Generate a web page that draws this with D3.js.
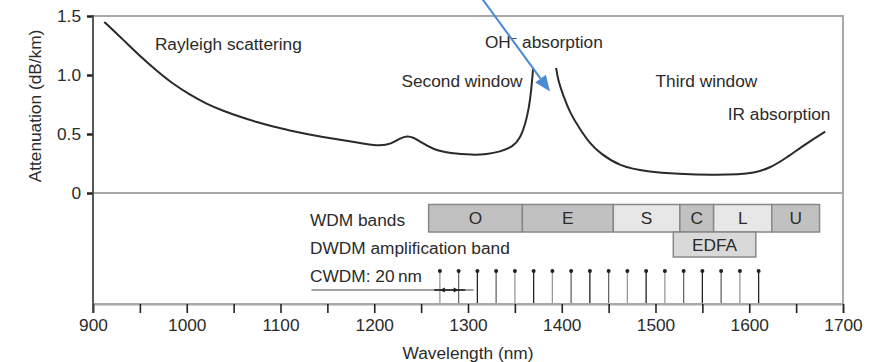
<!DOCTYPE html>
<html>
<head>
<meta charset="utf-8">
<script src="https://cdn.jsdelivr.net/npm/d3@7"></script>
<style>
	body{margin:0;background:#fff;}
	svg text{font-family:"Liberation Sans",Arial,sans-serif;fill:#2b2b2b;}
</style>
</head>
<body>
<svg width="871" height="362"></svg>
<script>
(()=>{
	//data
	let wavelength = [912,932,950,968,985,1004,1021,1039,1057,1075,1092,1110,1128,1163,1192,1206,1218,1228,1235,1242,1250,1263,1281,1305,1320,1334,1348,1356,1361,1365,1367.5,1369.5,
		null,
		1394,1396,1402,1409,1420,1430,1441,1462,1491,1525,1561,1590,1604,1622,1640,1661,1681];
	let attenuation = [1.45,1.30,1.16,1.035,0.925,0.83,0.755,0.695,0.645,0.60,0.562,0.53,0.50,0.45,0.415,0.40,0.415,0.465,0.485,0.47,0.43,0.368,0.336,0.322,0.328,0.35,0.39,0.47,0.58,0.72,0.87,1.06,
		null,
		1.06,0.958,0.816,0.675,0.534,0.421,0.336,0.225,0.18,0.162,0.153,0.158,0.169,0.21,0.30,0.42,0.52];

	let bandNames = ["O","E","S","C","L","U"];
	let bandStart = [1258,1358,1455,1526,1562,1624];
	let bandEnd   = [1358,1455,1526,1562,1624,1675];
	let bandShade = ["dark","dark","light","dark","light","dark"];

	let edfaBand = [1519,1607];
	let cwdmChannels = d3.range(1270,1611,20);

	let xTicks = d3.range(900,1701,50);
	let yTicks = [0,0.5,1.0,1.5];

	let notes = [
		{text:"Rayleigh scattering", wl:966, att:1.263},
		{text:"Second window", wl:1229, att:0.95},
		{text:"Third window", wl:1500, att:0.95},
		{text:"IR absorption", wl:1577, att:0.67}
	];

	//svg setup
	let svg = d3.select("svg"),
		x = d3.scaleLinear().domain([900,1700]).range([93,843]),
		y = d3.scaleLinear().domain([0,1.5]).range([193,16]),
		axisY = 304,
		fs = 17.3;
	let shades = {dark:"#c1c1c1", light:"#e7e7e7"};

	//frame
	svg.append("rect")
		.attr("x", x(900)).attr("y", y(1.5))
		.attr("width", x(1700)-x(900)).attr("height", axisY-y(1.5))
		.attr("fill","none").attr("stroke","#a8a8a8").attr("stroke-width",2);
	svg.append("line")
		.attr("x1", x(900)).attr("x2", x(1700))
		.attr("y1", y(0)).attr("y2", y(0))
		.attr("stroke","#a8a8a8").attr("stroke-width",2);

	//x axis
	let gx = svg.append("g").attr("transform","translate(0,"+axisY+")")
		.call(d3.axisBottom(x).tickValues(xTicks).tickSize(9).tickPadding(6)
			.tickFormat(d => d%100===0 ? d : ""));
	gx.select(".domain").attr("stroke","#a8a8a8").attr("stroke-width",2);
	gx.selectAll(".tick line").attr("stroke","#222").attr("stroke-width",1.6);
	gx.selectAll("text").attr("font-size",fs).attr("fill","#2b2b2b");

	//y axis
	let gy = svg.append("g").attr("transform","translate("+x(900)+",0)")
		.call(d3.axisLeft(y).tickValues(yTicks).tickSize(6).tickPadding(6)
			.tickFormat(d => d===0 ? "0" : d3.format(".1f")(d)));
	gy.select(".domain").remove();
	gy.selectAll(".tick line").attr("stroke","#222").attr("stroke-width",2.5);
	gy.selectAll("text").attr("font-size",fs).attr("fill","#2b2b2b");
	svg.append("line")
		.attr("x1", x(900)).attr("x2", x(900))
		.attr("y1", y(1.5)-1).attr("y2", axisY+9)
		.attr("stroke","#444").attr("stroke-width",1.6);

	//axis titles
	svg.append("text")
		.attr("transform","translate(41,106) rotate(-90)")
		.attr("text-anchor","middle")
		.attr("font-size",fs)
		.text("Attenuation (dB/km)");
	svg.append("text")
		.attr("x",468).attr("y",359)
		.attr("text-anchor","middle")
		.attr("font-size",fs)
		.text("Wavelength (nm)");

	//attenuation curve
	let pts = wavelength.map((w,i) => [w, attenuation[i]]);
	let line = d3.line()
		.defined(d => d[0]!==null)
		.x(d => x(d[0]))
		.y(d => y(d[1]))
		.curve(d3.curveBasis);
	svg.append("path")
		.datum(pts)
		.attr("d", line)
		.attr("fill","none")
		.attr("stroke","#2a2a2a")
		.attr("stroke-width",2);

	//curve notes
	notes.forEach(n => {
		svg.append("text")
			.attr("x", x(n.wl)).attr("y", y(n.att)+6)
			.attr("font-size",fs)
			.text(n.text);
	});
	let oh = svg.append("text")
		.attr("x", x(1318)).attr("y", y(1.28)+6)
		.attr("font-size",fs);
	oh.append("tspan").text("OH");
	oh.append("tspan").attr("dy",-6).attr("font-size",11).text("\u2212");
	oh.append("tspan").attr("dy",6).text(" absorption");

	//blue annotation arrow
	let from = [x(1312), y(1.68)],
		to = [x(1387.5), y(0.86)];
	let ang = Math.atan2(to[1]-from[1], to[0]-from[0]),
		headLen = 16, headW = 6.5;
	let base = [to[0]-headLen*Math.cos(ang), to[1]-headLen*Math.sin(ang)];
	svg.append("line")
		.attr("x1", from[0]).attr("y1", from[1])
		.attr("x2", base[0]).attr("y2", base[1])
		.attr("stroke","#4a8bd2").attr("stroke-width",2);
	svg.append("path")
		.attr("d", d3.line()([
			to,
			[base[0]+headW*Math.sin(ang), base[1]-headW*Math.cos(ang)],
			[base[0]-headW*Math.sin(ang), base[1]+headW*Math.cos(ang)]
		])+"Z")
		.attr("fill","#4a8bd2");

	//band labels on the left
	let rowLabels = [["WDM bands",220],["DWDM amplification band",248],["CWDM: 20\u2009nm",276]];
	rowLabels.forEach(r => {
		svg.append("text")
			.attr("x",310).attr("y",r[1]+6)
			.attr("font-size",fs)
			.text(r[0]);
	});

	//WDM band boxes
	let bandTop = 204.5, bandH = 27.5;
	let bands = bandNames.map((b,i) => ({name:b, s:bandStart[i], e:bandEnd[i], shade:bandShade[i]}));
	let gb = svg.append("g").selectAll("g").data(bands).enter().append("g");
	gb.append("rect")
		.attr("x", d => x(d.s)).attr("y", bandTop)
		.attr("width", d => x(d.e)-x(d.s)).attr("height", bandH)
		.attr("fill", d => shades[d.shade])
		.attr("stroke","#888").attr("stroke-width",1.5);
	gb.append("text")
		.attr("x", d => (x(d.s)+x(d.e))/2).attr("y", bandTop+bandH/2+6)
		.attr("text-anchor","middle")
		.attr("font-size",fs)
		.text(d => d.name);

	//EDFA box
	svg.append("rect")
		.attr("x", x(edfaBand[0])).attr("y", bandTop+bandH)
		.attr("width", x(edfaBand[1])-x(edfaBand[0])).attr("height", 25)
		.attr("fill","#d9d9d9")
		.attr("stroke","#888").attr("stroke-width",1.5);
	svg.append("text")
		.attr("x", (x(edfaBand[0])+x(edfaBand[1]))/2).attr("y", bandTop+bandH+12.5+6)
		.attr("text-anchor","middle")
		.attr("font-size",fs)
		.text("EDFA");

	//CWDM channel grid
	let chanTop = 271;
	let gc = svg.append("g").selectAll("g").data(cwdmChannels).enter().append("g");
	gc.append("line")
		.attr("x1", d => x(d)).attr("x2", d => x(d))
		.attr("y1", chanTop).attr("y2", axisY-1)
		.attr("stroke", (d,i) => i%3===2 ? "#222" : (i%2 ? "#666" : "#999"))
		.attr("stroke-width",1.3);
	gc.append("circle")
		.attr("cx", d => x(d)).attr("cy", chanTop)
		.attr("r",2).attr("fill","#222");

	//20 nm spacing marker
	let spacingY = 290;
	svg.append("line")
		.attr("x1", x(1133)).attr("x2", x(1306))
		.attr("y1", spacingY).attr("y2", spacingY)
		.attr("stroke","#444").attr("stroke-width",1.2);
	svg.append("line")
		.attr("x1", x(1264)).attr("x2", x(1297))
		.attr("y1", spacingY).attr("y2", spacingY)
		.attr("stroke","#222").attr("stroke-width",1.6);
	[[1270,1],[1290,-1]].forEach(a => {
		let px = x(a[0]);
		svg.append("path")
			.attr("d", d3.line()([[px,spacingY],[px+a[1]*5,spacingY-2.5],[px+a[1]*5,spacingY+2.5]])+"Z")
			.attr("fill","#222");
	});
})();
</script>
</body>
</html>
